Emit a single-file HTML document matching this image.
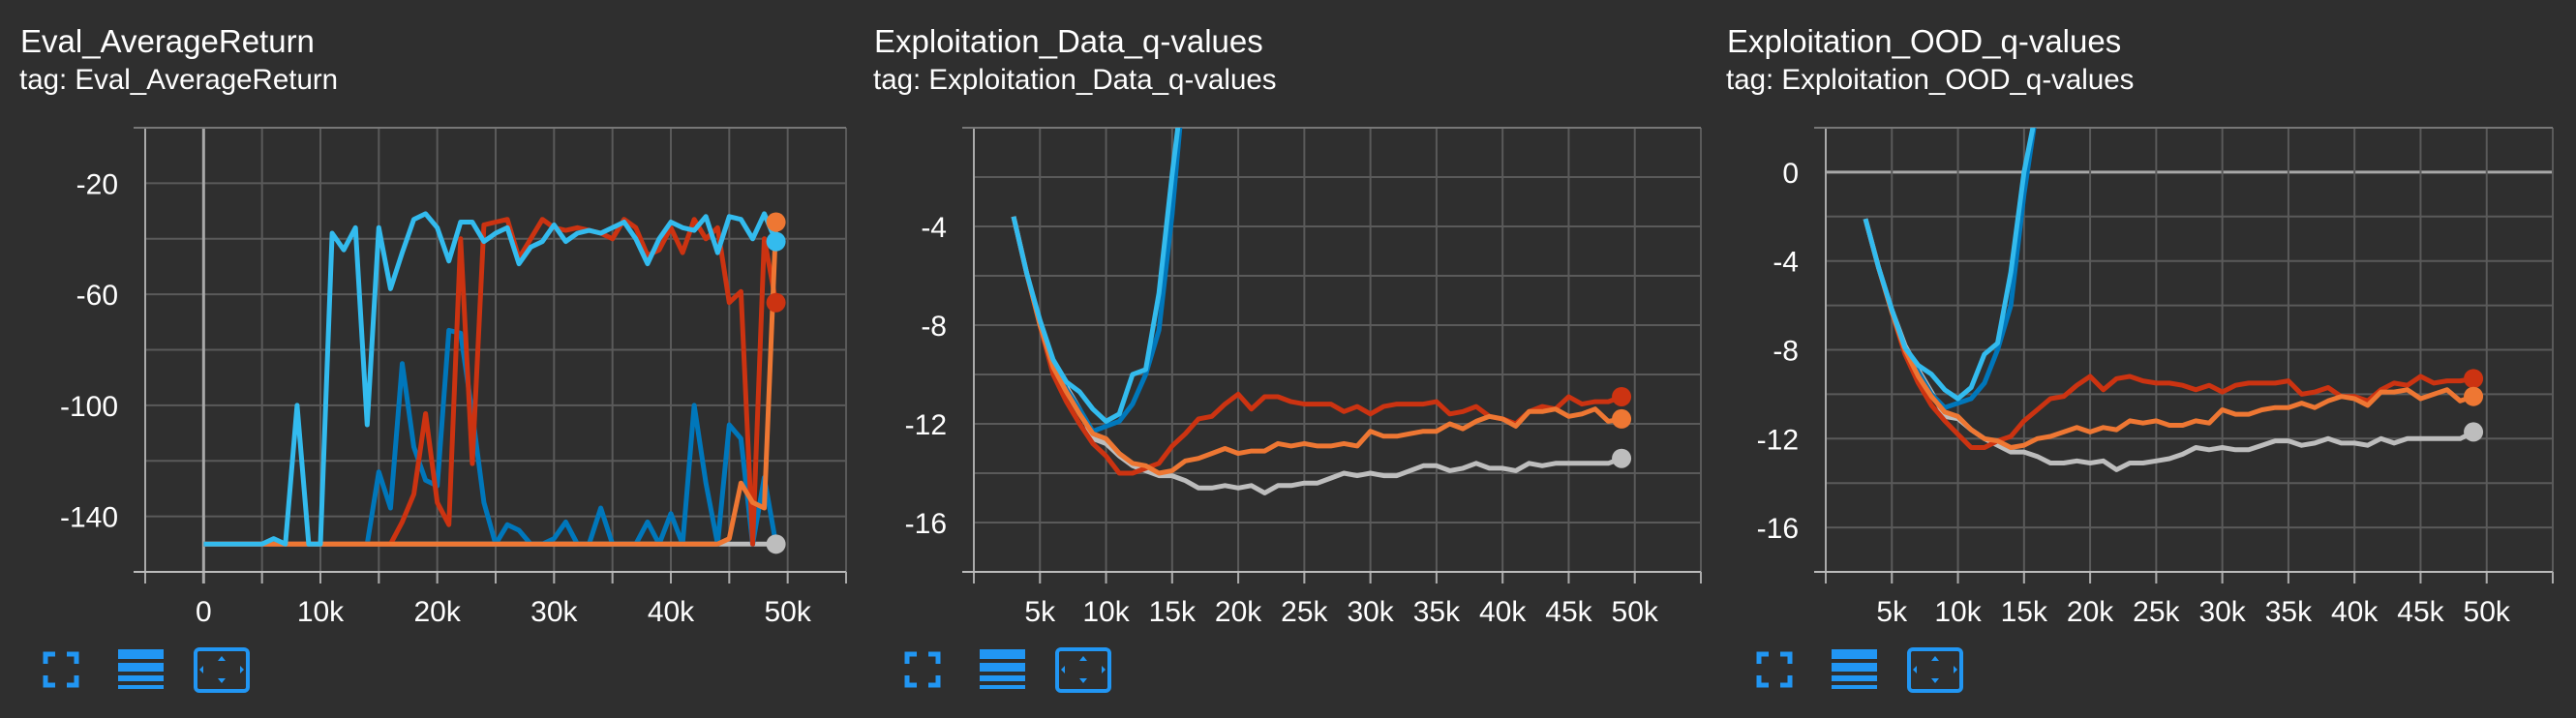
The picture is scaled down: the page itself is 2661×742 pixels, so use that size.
<!DOCTYPE html>
<html><head><meta charset="utf-8">
<style>
html,body{margin:0;padding:0;background:#2f2f2f;}
body{width:2661px;height:742px;overflow:hidden;position:relative;font-family:"Liberation Sans",sans-serif;color:#fff;}
.title{position:absolute;font-size:33px;white-space:nowrap;}
.sub{position:absolute;font-size:29.5px;white-space:nowrap;}
svg{position:absolute;left:0;top:0;}
</style></head>
<body>
<div class="title" style="left:21px;top:24px">Eval_AverageReturn</div>
<div class="sub" style="left:20px;top:66px">tag: Eval_AverageReturn</div>
<div class="title" style="left:903px;top:24px">Exploitation_Data_q-values</div>
<div class="sub" style="left:902px;top:66px">tag: Exploitation_Data_q-values</div>
<div class="title" style="left:1784px;top:24px">Exploitation_OOD_q-values</div>
<div class="sub" style="left:1783px;top:66px">tag: Exploitation_OOD_q-values</div>
<svg id="svg" width="2661" height="742"></svg>
<script>
// ---- Chart 1 data ----
const c1Steps = [0,1,2,3,4,5,6,7,8,9,10,11,12,13,14,15,16,17,18,19,20,21,22,23,24,25,26,27,28,29,30,31,32,33,34,35,36,37,38,39,40,41,42,43,44,45,46,47,48,49];
const c1Gray = [-150,-150,-150,-150,-150,-150,-150,-150,-150,-150,-150,-150,-150,-150,-150,-150,-150,-150,-150,-150,-150,-150,-150,-150,-150,-150,-150,-150,-150,-150,-150,-150,-150,-150,-150,-150,-150,-150,-150,-150,-150,-150,-150,-150,-150,-150,-150,-150,-150,-150];
const c1LightBlue = [-150,-150,-150,-150,-150,-150,-148,-150,-100,-150,-150,-38,-44,-36,-107,-36,-58,-45,-33,-31,-36,-48,-34,-34,-41,-38,-36,-49,-43,-41,-35,-41,-38,-37,-38,-36,-34,-40,-49,-40,-34,-36,-37,-32,-45,-32,-33,-40,-31,-41];
const c1DarkBlue = [-150,-150,-150,-150,-150,-150,-150,-150,-150,-150,-150,-150,-150,-150,-150,-124,-137,-85,-115,-127,-129,-73,-74,-103,-135,-150,-143,-145,-150,-150,-148,-142,-150,-150,-137,-150,-150,-150,-142,-150,-139,-150,-100,-128,-150,-107,-112,-150,-126,-150];
const c1Red = [-150,-150,-150,-150,-150,-150,-150,-150,-150,-150,-150,-150,-150,-150,-150,-150,-150,-142,-132,-103,-135,-143,-40,-121,-35,-34,-33,-47,-40,-33,-36,-37,-36,-37,-38,-40,-33,-36,-46,-44,-36,-45,-33,-40,-36,-63,-59,-150,-40,-63];
const c1Orange = [-150,-150,-150,-150,-150,-150,-150,-150,-150,-150,-150,-150,-150,-150,-150,-150,-150,-150,-150,-150,-150,-150,-150,-150,-150,-150,-150,-150,-150,-150,-150,-150,-150,-150,-150,-150,-150,-150,-150,-150,-150,-150,-150,-150,-150,-148,-128,-135,-137,-34];
const c1YTicks = [-20,-60,-100,-140];
const c1XTicks = [0,10,20,30,40,50];
// ---- Chart 2 data ----
const c2Steps = [3,4,5,6,7,8,9,10,11,12,13,14,15,16,17,18,19,20,21,22,23,24,25,26,27,28,29,30,31,32,33,34,35,36,37,38,39,40,41,42,43,44,45,46,47,48,49];
const c2BlueSteps = [3,4,5,6,7,8,9,10,11,12,13,14,15,16];
const c2LightBlue = [-3.6,-5.9,-7.8,-9.4,-10.3,-10.7,-11.4,-11.9,-11.6,-10.0,-9.8,-6.7,-1.9,2.5];
const c2DarkBlue = [-3.6,-5.9,-7.9,-9.6,-10.6,-11.4,-12.3,-12.1,-11.9,-11.2,-10.0,-8.2,-3.5,2.5];
const c2Red = [-3.6,-5.9,-8,-10,-11.1,-12,-12.8,-13.3,-14,-14,-13.8,-13.6,-12.9,-12.4,-11.8,-11.7,-11.2,-10.8,-11.4,-10.9,-10.9,-11.1,-11.2,-11.2,-11.2,-11.5,-11.3,-11.6,-11.3,-11.2,-11.2,-11.2,-11.1,-11.6,-11.5,-11.3,-11.7,-11.8,-12.0,-11.5,-11.3,-11.4,-10.9,-11.2,-11.1,-11.1,-10.9];
const c2Orange = [-3.6,-5.9,-8,-9.7,-10.7,-11.6,-12.4,-12.6,-13.2,-13.6,-13.7,-14,-13.9,-13.5,-13.4,-13.2,-13,-13.2,-13.1,-13.1,-12.8,-12.9,-12.8,-12.9,-12.9,-12.8,-12.9,-12.3,-12.5,-12.5,-12.4,-12.3,-12.3,-12.0,-12.2,-11.9,-11.7,-11.8,-12.1,-11.5,-11.5,-11.4,-11.7,-11.6,-11.4,-11.9,-11.8];
const c2Gray = [-3.6,-5.9,-7.9,-9.5,-10.5,-11.4,-12.6,-12.8,-13.3,-13.7,-13.9,-14.1,-14.1,-14.3,-14.6,-14.6,-14.5,-14.6,-14.5,-14.8,-14.5,-14.5,-14.4,-14.4,-14.2,-14,-14.1,-14,-14.1,-14.1,-13.9,-13.7,-13.7,-13.9,-13.8,-13.6,-13.8,-13.8,-13.9,-13.6,-13.7,-13.6,-13.6,-13.6,-13.6,-13.6,-13.4];
const c2YTicks = [-4,-8,-12,-16];
const c2XTicks = [5,10,15,20,25,30,35,40,45,50];
// ---- Chart 3 data ----
const c3Steps = [3,4,5,6,7,8,9,10,11,12,13,14,15,16,17,18,19,20,21,22,23,24,25,26,27,28,29,30,31,32,33,34,35,36,37,38,39,40,41,42,43,44,45,46,47,48,49];
const c3BlueSteps = [3,4,5,6,7,8,9,10,11,12,13,14,15,16];
const c3LightBlue = [-2.1,-4.3,-6.2,-7.9,-8.7,-9.1,-9.8,-10.2,-9.7,-8.2,-7.7,-4.5,0,3];
const c3DarkBlue = [-2.1,-4.3,-6.2,-8,-9,-10,-10.6,-10.4,-10.2,-9.5,-8,-6,-1,3];
const c3Red = [-2.1,-4.3,-6.3,-8.2,-9.5,-10.5,-11.2,-11.8,-12.4,-12.4,-12.1,-11.9,-11.2,-10.7,-10.2,-10.1,-9.6,-9.2,-9.8,-9.3,-9.2,-9.4,-9.5,-9.5,-9.6,-9.8,-9.6,-9.9,-9.6,-9.5,-9.5,-9.5,-9.4,-10,-9.9,-9.7,-10.1,-10.1,-10.3,-9.8,-9.5,-9.6,-9.2,-9.5,-9.4,-9.4,-9.3];
const c3Orange = [-2.1,-4.3,-6.3,-8,-9.2,-10.1,-10.8,-11,-11.6,-12,-12.1,-12.4,-12.3,-12,-11.9,-11.7,-11.5,-11.7,-11.5,-11.6,-11.2,-11.3,-11.2,-11.4,-11.4,-11.2,-11.3,-10.7,-10.9,-10.9,-10.7,-10.6,-10.6,-10.4,-10.6,-10.3,-10.1,-10.2,-10.5,-9.9,-9.9,-9.8,-10.2,-10,-9.8,-10.3,-10.1];
const c3Gray = [-2.1,-4.3,-6.2,-7.8,-8.9,-9.9,-11,-11.1,-11.6,-12,-12.3,-12.6,-12.6,-12.8,-13.1,-13.1,-13,-13.1,-13,-13.4,-13.1,-13.1,-13,-12.9,-12.7,-12.4,-12.5,-12.4,-12.5,-12.5,-12.3,-12.1,-12.1,-12.3,-12.2,-12,-12.2,-12.2,-12.3,-12,-12.2,-12,-12,-12,-12,-12,-11.7];
const c3YTicks = [0,-4,-8,-12,-16];
const c3XTicks = [5,10,15,20,25,30,35,40,45,50];

const NS='http://www.w3.org/2000/svg';
const svg=document.getElementById('svg');
function mk(tag,attrs,parent){const e=document.createElementNS(NS,tag);for(const k in attrs)e.setAttribute(k,attrs[k]);(parent||svg).appendChild(e);return e;}
const COL={gray:'#bdbdbd',dblue:'#0077bb',red:'#cc3311',orange:'#ee7733',lblue:'#33bbee'};

function chart(idx,cfg){
  const L=cfg.left,R=cfg.right,T=132,B=591;
  const sx=v=>L+(v-cfg.xmin)/(cfg.xmax-cfg.xmin)*(R-L);
  const sy=v=>T+(cfg.ymax-v)/(cfg.ymax-cfg.ymin)*(B-T);
  const g=mk('g',{});
  
  
  for(let v=cfg.ymin+cfg.ygrid;v<cfg.ymax;v+=cfg.ygrid){
    const z=Math.abs(v)<1e-9;
    const l=mk('line',{x1:L,x2:R,y1:sy(v),y2:sy(v),stroke:z?'#a8a8a8':'#5a5a5a','stroke-width':z?3:2},g);
    
    
  }
  for(let v=cfg.xmin+5;v<=cfg.xmax;v+=5){
    const z=Math.abs(v)<1e-9;
    const l=mk('line',{x1:sx(v),x2:sx(v),y1:T,y2:B+12,stroke:z?'#a8a8a8':'#5a5a5a','stroke-width':z?3:2},g);
    
    
    const t=mk('line',{x1:sx(v),x2:sx(v),y1:B,y2:B+12,stroke:'#aaa','stroke-width':2},g);
    
    
  }
  mk('line',{x1:L,x2:L,y1:T,y2:B+12,stroke:'#aaa','stroke-width':2},g);
  mk('line',{x1:L-12,x2:R,y1:B,y2:B,stroke:'#bbb','stroke-width':2},g);
  mk('line',{x1:L-12,x2:R,y1:T,y2:T,stroke:'#777','stroke-width':2},g);
  mk('line',{x1:R,x2:R,y1:B,y2:B+12,stroke:'#aaa','stroke-width':2},g);
  cfg.yt.forEach(v=>{
    const t=mk('text',{x:L-28,y:sy(v)+11,'text-anchor':'end',fill:'#fff','font-size':30,'font-family':'Liberation Sans, sans-serif'},g);
    t.textContent=v;
    
    
  });
  cfg.xt.forEach(v=>{
    const t=mk('text',{x:sx(v),y:642,'text-anchor':'middle',fill:'#fff','font-size':30,'font-family':'Liberation Sans, sans-serif'},g);
    t.textContent=v===0?'0':v+'k';
    
    
  });
  const cp=mk('clipPath',{id:'clip'+idx},g);
  mk('rect',{x:L,y:T,width:R-L,height:B-T},cp);
  const sg=mk('g',{'clip-path':'url(#clip'+idx+')'},g);
  cfg.series.forEach(s=>{
    const d=s.xs.map((x,i)=>(i?'L':'M')+sx(x).toFixed(1)+','+sy(s.ys[i]).toFixed(1)).join(' ');
    const p=mk('path',{d:d,fill:'none',stroke:COL[s.c],'stroke-width':5,'stroke-linejoin':'round'},sg);
    
    
  });
  cfg.series.forEach(s=>{
    if(s.dot){
      const n=s.xs.length-1;
      const c=mk('circle',{cx:sx(s.xs[n]),cy:sy(s.ys[n]),r:10,fill:COL[s.c]},g);
      
      
    }
  });
  const ox=cfg.ox;
  const ic=mk('g',{fill:'none',stroke:'#2196f3','stroke-width':5},g);
  
  
  mk('path',{d:`M${ox+47},686 v-10 h10 M${ox+69},676 h10 v10 M${ox+79},698 v10 h-10 M${ox+57},708 h-10 v-10`},ic);
  const li=mk('g',{fill:'#2196f3'},g);
  
  
  mk('rect',{x:ox+122,y:671,width:47,height:10},li);
  mk('rect',{x:ox+122,y:685,width:47,height:9},li);
  mk('rect',{x:ox+122,y:698,width:47,height:6},li);
  mk('rect',{x:ox+122,y:708,width:47,height:4},li);
  const fb=mk('g',{},g);
  
  
  mk('rect',{x:ox+202,y:671,width:54,height:43,rx:4,fill:'none',stroke:'#2196f3','stroke-width':4},fb);
  mk('path',{d:`M${ox+225},683 l4,-5 l4,5z M${ox+225},701 l4,5 l4,-5z M${ox+210},688 l-4,4 l4,4z M${ox+248},688 l4,4 l-4,4z`,fill:'#2196f3'},fb);
}

chart(1,{left:150,right:874,xmin:-5,xmax:55,ymin:-160,ymax:0,ygrid:20,yt:c1YTicks,xt:c1XTicks,ox:0,series:[
  {name:'gray',c:'gray',xs:c1Steps,ys:c1Gray,dot:true},
  {name:'dark-blue',c:'dblue',xs:c1Steps,ys:c1DarkBlue},
  {name:'red',c:'red',xs:c1Steps,ys:c1Red,dot:true},
  {name:'orange',c:'orange',xs:c1Steps,ys:c1Orange,dot:true},
  {name:'light-blue',c:'lblue',xs:c1Steps,ys:c1LightBlue,dot:true}]});
chart(2,{left:1006,right:1757,xmin:0,xmax:55,ymin:-18,ymax:0,ygrid:2,yt:c2YTicks,xt:c2XTicks,ox:890,series:[
  {name:'gray',c:'gray',xs:c2Steps,ys:c2Gray,dot:true},
  {name:'dark-blue',c:'dblue',xs:c2BlueSteps,ys:c2DarkBlue},
  {name:'red',c:'red',xs:c2Steps,ys:c2Red,dot:true},
  {name:'orange',c:'orange',xs:c2Steps,ys:c2Orange,dot:true},
  {name:'light-blue',c:'lblue',xs:c2BlueSteps,ys:c2LightBlue}]});
chart(3,{left:1886,right:2637,xmin:0,xmax:55,ymin:-18,ymax:2,ygrid:2,yt:c3YTicks,xt:c3XTicks,ox:1770,series:[
  {name:'gray',c:'gray',xs:c3Steps,ys:c3Gray,dot:true},
  {name:'dark-blue',c:'dblue',xs:c3BlueSteps,ys:c3DarkBlue},
  {name:'red',c:'red',xs:c3Steps,ys:c3Red,dot:true},
  {name:'orange',c:'orange',xs:c3Steps,ys:c3Orange,dot:true},
  {name:'light-blue',c:'lblue',xs:c3BlueSteps,ys:c3LightBlue}]});
</script>
</body></html>
